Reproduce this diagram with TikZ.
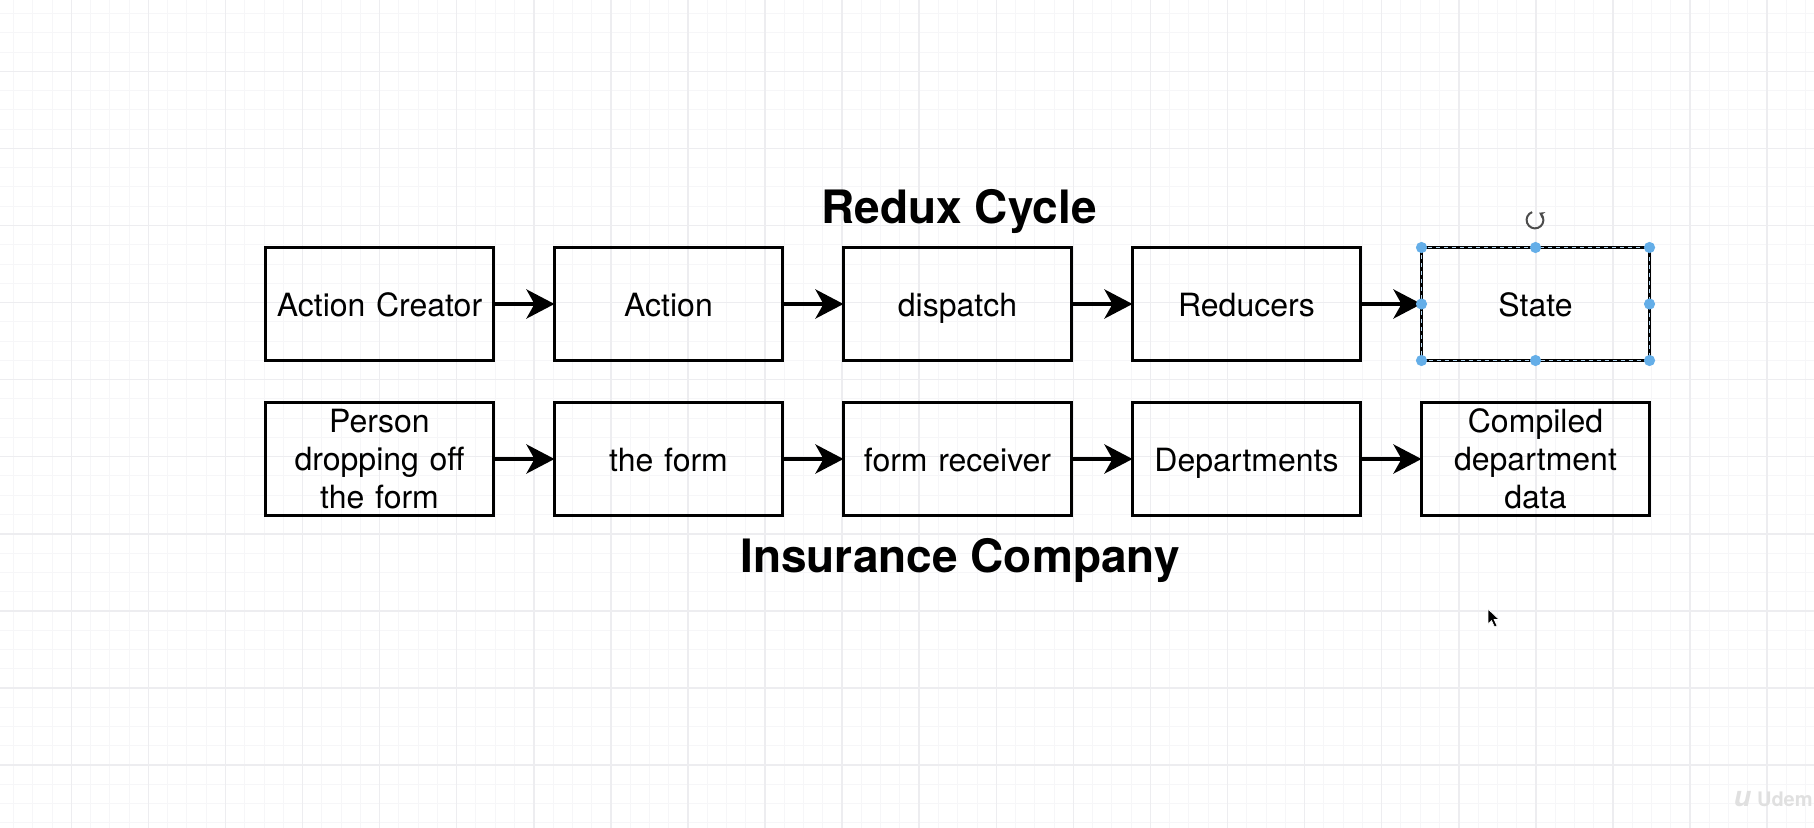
\documentclass[tikz,border=0pt]{standalone}
\usepackage{fontspec}
\setmainfont{TeX Gyre Heros}
\usetikzlibrary{arrows.meta}
\definecolor{gridminor}{HTML}{F6F6F8}
\definecolor{gridmajor}{HTML}{EDEDF0}
\definecolor{handle}{HTML}{64AEE8}
\tikzset{
  box/.style={draw=black, line width=1.7pt, minimum width=114pt, minimum height=56.5pt,
    inner sep=0pt, outer sep=0pt, align=center, text width=112pt,
    font=\fontsize{16}{19}\selectfont},
  onebox/.style={box, text height=12.3pt, text depth=0pt},
  flow/.style={line width=2.2pt, -{Stealth[length=14pt, width=14.5pt, inset=4pt]}},
  heading/.style={font=\fontsize{23}{27}\selectfont\bfseries, anchor=base},
  gminor/.style={draw=gridminor, line width=0.5pt},
  gmajor/.style={draw=gridmajor, line width=0.75pt},
}
\begin{document}
\begin{tikzpicture}[x=0.5pt,y=-0.5pt]
\useasboundingbox (0,0) rectangle (1814,828);
\fill[white] (0,0) rectangle (1814,828);
% grid
\foreach \i in {0,...,94} \draw[gminor] ({13.5+19.27*\i},0) -- ({13.5+19.27*\i},828);
\foreach \j in {0,...,43} \draw[gminor] (0,{13.5+19.27*\j}) -- (1814,{13.5+19.27*\j});
\foreach \i in {0,...,23} \draw[gmajor] ({71.3+77.08*\i},0) -- ({71.3+77.08*\i},828);
\foreach \j in {0,...,10} \draw[gmajor] (0,{71.3+77.08*\j}) -- (1814,{71.3+77.08*\j});

% titles
\node[heading] (t1) at (959,224) {Redux Cycle};
\node[heading] (t2) at (960,572) {Insurance Company};

% top row
\node[onebox] (a1) at (379.5,304) {Action Creator};
\node[onebox] (a2) at (668.5,304) {Action};
\node[onebox] (a3) at (957.5,304) {dispatch};
\node[onebox] (a4) at (1246.5,304) {Reducers};
\node[onebox] (a5) at (1535.5,304) {State};

% bottom row
\node[box] (b1) at (379.5,459) {Person\\dropping off\\the form};
\node[onebox] (b2) at (668.5,459) {the form};
\node[onebox] (b3) at (957.5,459) {form receiver};
\node[onebox] (b4) at (1246.5,459) {Departments};
\node[box] (b5) at (1535.5,459) {Compiled\\department\\data};

% connectors
\draw[flow] (a1) -- (a2);
\draw[flow] (a2) -- (a3);
\draw[flow] (a3) -- (a4);
\draw[flow] (a4) -- (a5);
\draw[flow] (b1) -- (b2);
\draw[flow] (b2) -- (b3);
\draw[flow] (b3) -- (b4);
\draw[flow] (b4) -- (b5);

% selection decoration on State
\draw[handle!45!white, line width=0.6pt, dash pattern=on 2pt off 2pt]
  (a5.north west) rectangle (a5.south east);
\foreach \an in {north west,north,north east,east,south east,south,south west,west}
  \fill[handle] (a5.\an) circle (2.8pt);
\coordinate (rot) at (1535,220);
\draw[black!70, line width=1pt, -{Stealth[length=2.5pt,width=3.5pt]}]
  ([shift={(110:4.2pt)}]rot) arc[start angle=110, end angle=420, radius=4.2pt];

% mouse cursor
\coordinate (cur) at (1488,609);
\filldraw[fill=black, draw=white, line width=0.3pt]
  (cur) -- ++(0,15) -- ++(3.5,-3.5) -- ++(3,6.5) -- ++(2.5,-1.2) -- ++(-3,-6.3) -- ++(5,0) -- cycle;

% watermark (cut by the frame edge in the reference)
\node[anchor=base east, text=black!12, font=\fontsize{10}{12}\selectfont\bfseries, inner sep=0pt] (wm) at (1813,806) {{\fontsize{14}{16}\selectfont\itshape u}\hspace{3pt}Udem};
\end{tikzpicture}
\end{document}
